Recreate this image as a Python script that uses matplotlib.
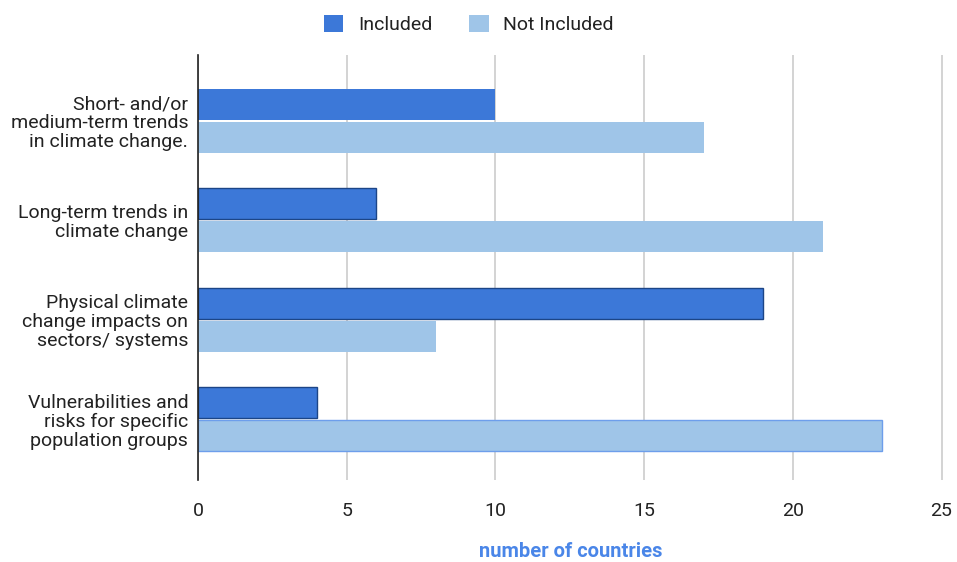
import matplotlib
matplotlib.use("Agg")
import matplotlib.pyplot as plt
import numpy as np

plt.rcParams['font.family'] = ['Roboto', 'DejaVu Sans']

categories = ["Short- and/or\nmedium-term trends\nin climate change.",
              "Long-term trends in\nclimate change",
              "Physical climate\nchange impacts on\nsectors/ systems",
              "Vulnerabilities and\nrisks for specific\npopulation groups"]
included = [10, 6, 19, 4]
not_included = [17, 21, 8, 23]
series_names = ["Included", "Not Included"]
xticks = [0, 5, 10, 15, 20, 25]

c_inc = "#3c78d8"
c_not = "#9fc5e8"

fig = plt.figure(figsize=(9.57, 5.62), dpi=100)
ax = fig.add_axes([0.2069, 0.1459, 0.7785, 0.7562])

y = np.arange(len(categories))
h = 0.31
off = 0.167
inc_edges = ["none", "#1c4587", "#1c4587", "#1c4587"]
not_edges = ["none", "none", "none", "#6d9eeb"]
b1 = ax.barh(y - off, included, height=h, color=c_inc, label=series_names[0], zorder=3)
b2 = ax.barh(y + off, not_included, height=h, color=c_not, label=series_names[1], zorder=3)
for bar, ec in zip(b1, inc_edges):
    if ec != "none":
        bar.set_edgecolor(ec); bar.set_linewidth(1.0)
for bar, ec in zip(b2, not_edges):
    if ec != "none":
        bar.set_edgecolor(ec); bar.set_linewidth(1.0)

ax.set_xlim(0, 25.05)
ax.set_ylim(3.61, -0.66)
ax.set_yticks(y)
ax.set_yticklabels(categories, fontsize=14, color="#222222", linespacing=1.08)
ax.set_xticks(xticks)
ax.set_xticklabels([str(t) for t in xticks], fontsize=14, color="#222222")
ax.tick_params(axis='both', length=0)
ax.tick_params(axis='y', pad=7)
ax.tick_params(axis='x', pad=16)
ax.xaxis.grid(True, color="#cccccc", linewidth=1.2, zorder=0)
ax.set_axisbelow(True)
for s in ["top", "right", "bottom"]:
    ax.spines[s].set_visible(False)
ax.spines["left"].set_color("#222222")
ax.spines["left"].set_linewidth(1.2)
ax.spines["left"].set_zorder(4)

ax.set_xlabel("number of countries", fontsize=14.5, fontweight="bold", color="#4a86e8", labelpad=16)

fig.legend(handles=[b1, b2], labels=series_names, loc="upper center",
           bbox_to_anchor=(0.49, 1.005), ncol=2, frameon=False, fontsize=14,
           handlelength=1.0, handleheight=1.0, handletextpad=0.75, columnspacing=1.9,
           labelcolor="#222222")

fig.savefig("out.png", dpi=100)
